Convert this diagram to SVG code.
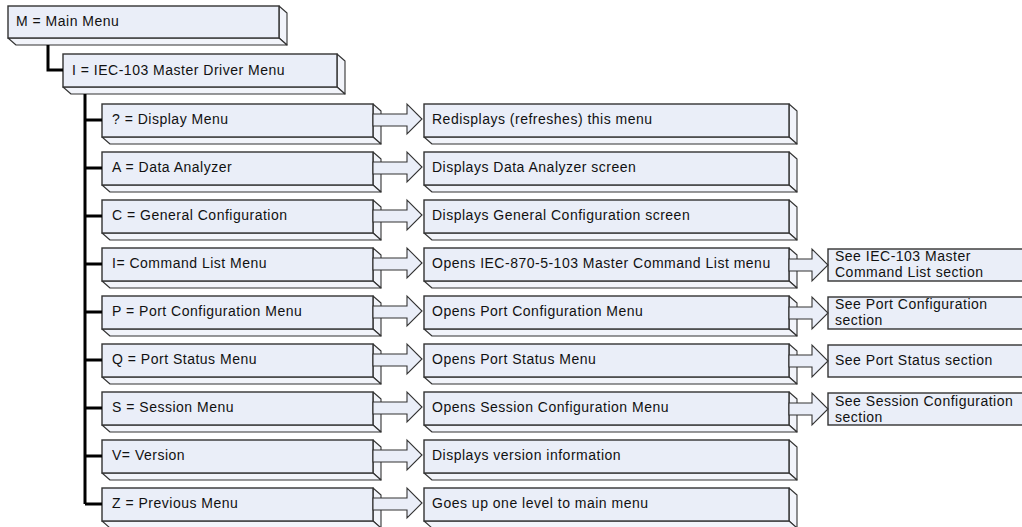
<svg xmlns="http://www.w3.org/2000/svg" width="1022" height="527" viewBox="0 0 1022 527">
<style>
.f{fill:#EAEEF8;stroke:#333;stroke-width:1.4}
.s{fill:#F2F4FA;stroke:#333;stroke-width:1.1;stroke-linejoin:round}
.t{font-family:"Liberation Sans",Arial,sans-serif;font-size:14px;letter-spacing:0.5px;fill:#111}
.ln{fill:none;stroke:#000;stroke-width:3}
.ar{fill:#EAEEF8;stroke:#333;stroke-width:1.1;stroke-linejoin:miter}
</style>
<rect width="1022" height="527" fill="#fff"/>
<g id="nodes">
<g id="n-main"><polygon class="s" points="279,6 287,13 287,45 279,38"/><polygon class="s" points="8,38 279,38 287,45 16,45"/><rect class="f" x="8" y="6" width="271" height="32"/><text class="t" x="16" y="26">M = Main Menu</text></g>
<g id="n-iec"><polygon class="s" points="337,54 345,61 345,94 337,87"/><polygon class="s" points="63,87 337,87 345,94 71,94"/><rect class="f" x="63" y="54" width="274" height="33"/><text class="t" x="72" y="75">I = IEC-103 Master Driver Menu</text></g>

<g id="n-q"><polygon class="s" points="373,104 381,111 381,144 373,137"/><polygon class="s" points="102,137 373,137 381,144 110,144"/><rect class="f" x="102" y="104" width="271" height="33"/><text class="t" x="112" y="124">? = Display Menu</text></g>
<g id="n-a"><polygon class="s" points="373,152 381,159 381,192 373,185"/><polygon class="s" points="102,185 373,185 381,192 110,192"/><rect class="f" x="102" y="152" width="271" height="33"/><text class="t" x="112" y="172">A = Data Analyzer</text></g>
<g id="n-c"><polygon class="s" points="373,200 381,207 381,240 373,233"/><polygon class="s" points="102,233 373,233 381,240 110,240"/><rect class="f" x="102" y="200" width="271" height="33"/><text class="t" x="112" y="220">C = General Configuration</text></g>
<g id="n-i"><polygon class="s" points="373,248 381,255 381,288 373,281"/><polygon class="s" points="102,281 373,281 381,288 110,288"/><rect class="f" x="102" y="248" width="271" height="33"/><text class="t" x="112" y="268">I= Command List Menu</text></g>
<g id="n-p"><polygon class="s" points="373,296 381,303 381,336 373,329"/><polygon class="s" points="102,329 373,329 381,336 110,336"/><rect class="f" x="102" y="296" width="271" height="33"/><text class="t" x="112" y="316">P = Port Configuration Menu</text></g>
<g id="n-qs"><polygon class="s" points="373,344 381,351 381,384 373,377"/><polygon class="s" points="102,377 373,377 381,384 110,384"/><rect class="f" x="102" y="344" width="271" height="33"/><text class="t" x="112" y="364">Q = Port Status Menu</text></g>
<g id="n-s"><polygon class="s" points="373,392 381,399 381,432 373,425"/><polygon class="s" points="102,425 373,425 381,432 110,432"/><rect class="f" x="102" y="392" width="271" height="33"/><text class="t" x="112" y="412">S = Session Menu</text></g>
<g id="n-v"><polygon class="s" points="373,440 381,447 381,480 373,473"/><polygon class="s" points="102,473 373,473 381,480 110,480"/><rect class="f" x="102" y="440" width="271" height="33"/><text class="t" x="112" y="460">V= Version</text></g>
<g id="n-z"><polygon class="s" points="373,488 381,495 381,528 373,521"/><polygon class="s" points="102,521 373,521 381,528 110,528"/><rect class="f" x="102" y="488" width="271" height="33"/><text class="t" x="112" y="508">Z = Previous Menu</text></g>

<g id="r-q"><polygon class="s" points="789,104 797,111 797,144 789,137"/><polygon class="s" points="424,137 789,137 797,144 432,144"/><rect class="f" x="424" y="104" width="365" height="33"/><text class="t" x="432" y="124">Redisplays (refreshes) this menu</text></g>
<g id="r-a"><polygon class="s" points="789,152 797,159 797,192 789,185"/><polygon class="s" points="424,185 789,185 797,192 432,192"/><rect class="f" x="424" y="152" width="365" height="33"/><text class="t" x="432" y="172">Displays Data Analyzer screen</text></g>
<g id="r-c"><polygon class="s" points="789,200 797,207 797,240 789,233"/><polygon class="s" points="424,233 789,233 797,240 432,240"/><rect class="f" x="424" y="200" width="365" height="33"/><text class="t" x="432" y="220">Displays General Configuration screen</text></g>
<g id="r-i"><polygon class="s" points="789,248 797,255 797,288 789,281"/><polygon class="s" points="424,281 789,281 797,288 432,288"/><rect class="f" x="424" y="248" width="365" height="33"/><text class="t" x="432" y="268">Opens IEC-870-5-103 Master Command List menu</text></g>
<g id="r-p"><polygon class="s" points="789,296 797,303 797,336 789,329"/><polygon class="s" points="424,329 789,329 797,336 432,336"/><rect class="f" x="424" y="296" width="365" height="33"/><text class="t" x="432" y="316">Opens Port Configuration Menu</text></g>
<g id="r-qs"><polygon class="s" points="789,344 797,351 797,384 789,377"/><polygon class="s" points="424,377 789,377 797,384 432,384"/><rect class="f" x="424" y="344" width="365" height="33"/><text class="t" x="432" y="364">Opens Port Status Menu</text></g>
<g id="r-s"><polygon class="s" points="789,392 797,399 797,432 789,425"/><polygon class="s" points="424,425 789,425 797,432 432,432"/><rect class="f" x="424" y="392" width="365" height="33"/><text class="t" x="432" y="412">Opens Session Configuration Menu</text></g>
<g id="r-v"><polygon class="s" points="789,440 797,447 797,480 789,473"/><polygon class="s" points="424,473 789,473 797,480 432,480"/><rect class="f" x="424" y="440" width="365" height="33"/><text class="t" x="432" y="460">Displays version information</text></g>
<g id="r-z"><polygon class="s" points="789,488 797,495 797,528 789,521"/><polygon class="s" points="424,521 789,521 797,528 432,528"/><rect class="f" x="424" y="488" width="365" height="33"/><text class="t" x="432" y="508">Goes up one level to main menu</text></g>

<g id="x-i"><rect class="f" x="828" y="249" width="210" height="32"/><text class="t" x="835" y="261">See IEC-103 Master</text><text class="t" x="835" y="277">Command List section</text></g>
<g id="x-p"><rect class="f" x="828" y="297" width="210" height="32"/><text class="t" x="835" y="309">See Port Configuration</text><text class="t" x="835" y="325">section</text></g>
<g id="x-qs"><rect class="f" x="828" y="345" width="210" height="32"/><text class="t" x="835" y="365">See Port Status section</text></g>
<g id="x-s"><rect class="f" x="828" y="393" width="210" height="32"/><text class="t" x="835" y="406">See Session Configuration</text><text class="t" x="835" y="422">section</text></g>
</g>
<g id="connectors">
<path class="ln" d="M48,45 V70 H63"/>
<path class="ln" d="M85,94 V504"/>
<path class="ln" d="M85,120 H102 M85,168 H102 M85,216 H102 M85,264 H102 M85,312 H102 M85,360 H102 M85,408 H102 M85,456 H102 M85,504 H102"/>
<polygon class="ar" points="373,114 407,114 407,104 422,119 407,134 407,126 373,126"/>
<polygon class="ar" points="373,162 407,162 407,152 422,167 407,182 407,174 373,174"/>
<polygon class="ar" points="373,210 407,210 407,200 422,215 407,230 407,222 373,222"/>
<polygon class="ar" points="373,258 407,258 407,248 422,263 407,278 407,270 373,270"/>
<polygon class="ar" points="373,306 407,306 407,296 422,311 407,326 407,318 373,318"/>
<polygon class="ar" points="373,354 407,354 407,344 422,359 407,374 407,366 373,366"/>
<polygon class="ar" points="373,402 407,402 407,392 422,407 407,422 407,414 373,414"/>
<polygon class="ar" points="373,450 407,450 407,440 422,455 407,470 407,462 373,462"/>
<polygon class="ar" points="373,498 407,498 407,488 422,503 407,518 407,510 373,510"/>
<polygon class="ar" points="789,259 812,259 812,249 828,265 812,281 812,271 789,271"/>
<polygon class="ar" points="789,307 812,307 812,297 828,313 812,329 812,319 789,319"/>
<polygon class="ar" points="789,355 812,355 812,345 828,361 812,377 812,367 789,367"/>
<polygon class="ar" points="789,403 812,403 812,393 828,409 812,425 812,415 789,415"/>
</g>
</svg>
